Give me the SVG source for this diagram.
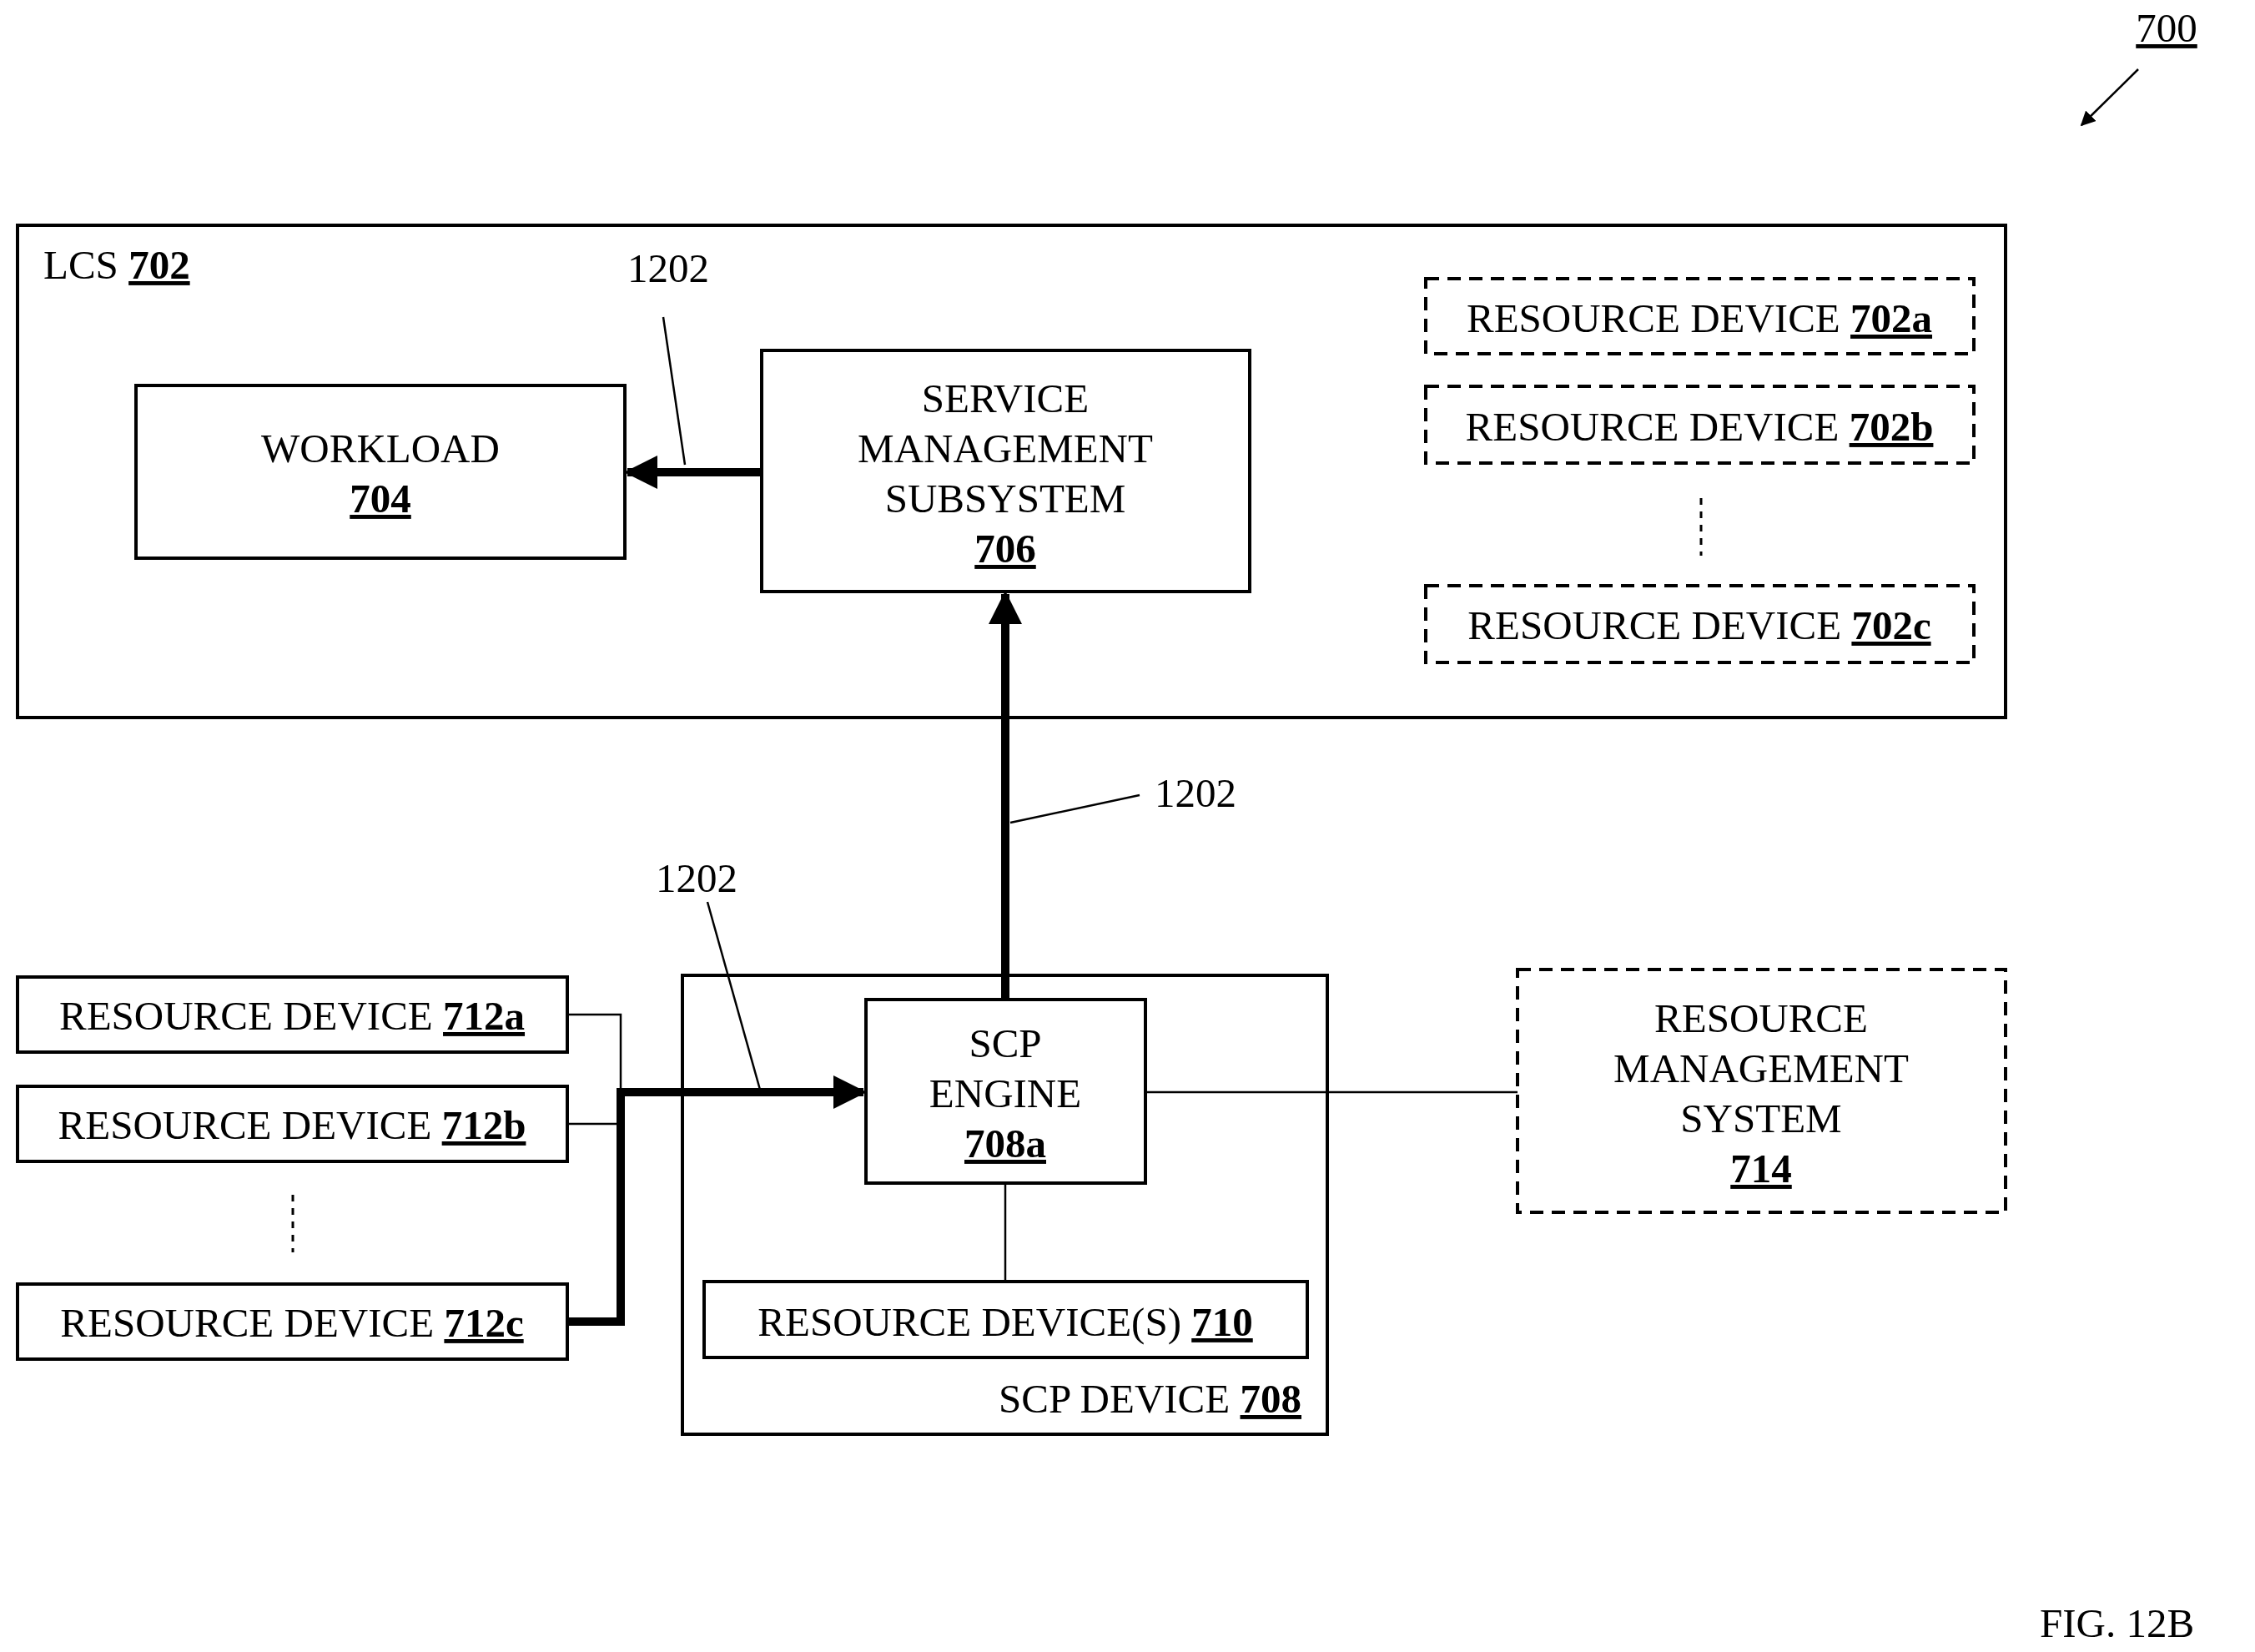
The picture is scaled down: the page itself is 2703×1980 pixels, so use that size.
<svg xmlns="http://www.w3.org/2000/svg" width="2703" height="1980" viewBox="0 0 2703 1980">
<style>
text{font-family:"Liberation Serif",serif;font-size:49px;fill:#000}
.m{text-anchor:middle}
.b{fill:none;stroke:#000;stroke-width:4}
.d{fill:none;stroke:#000;stroke-width:4;stroke-dasharray:16 10}
.t{fill:none;stroke:#000;stroke-width:2.5}
.k{fill:none;stroke:#000;stroke-width:10}
</style>
<defs>
<marker id="ah" viewBox="0 0 10 10" refX="9" refY="5" markerWidth="4" markerHeight="4" orient="auto" markerUnits="strokeWidth"><path d="M0,0L10,5L0,10z"/></marker>
<marker id="sa" viewBox="0 0 10 10" refX="9" refY="5" markerWidth="18" markerHeight="18" orient="auto" markerUnits="userSpaceOnUse"><path d="M0,0L10,5L0,10z"/></marker>
</defs>
<rect width="2703" height="1980" fill="#fff"/>
<g id="lcs"><rect class="b" x="21" y="270" width="2383" height="590"/><text x="52" y="334">LCS <tspan font-weight="bold" text-decoration="underline">702</tspan></text></g>
<g id="workload"><rect class="b" x="163" y="462" width="586" height="207"/><text class="m" x="456" y="554">WORKLOAD</text><text class="m" x="456" y="614" font-weight="bold" text-decoration="underline">704</text></g>
<g id="sms"><rect class="b" x="913" y="420" width="585" height="289"/><text class="m" x="1205" y="494">SERVICE</text><text class="m" x="1205" y="554">MANAGEMENT</text><text class="m" x="1205" y="614">SUBSYSTEM</text><text class="m" x="1205" y="674" font-weight="bold" text-decoration="underline">706</text></g>
<g id="rd702a"><rect class="d" x="1709" y="334" width="657" height="90"/><text class="m" x="2037" y="398">RESOURCE DEVICE <tspan font-weight="bold" text-decoration="underline">702a</tspan></text></g>
<g id="rd702b"><rect class="d" x="1709" y="463" width="657" height="92"/><text class="m" x="2037" y="528">RESOURCE DEVICE <tspan font-weight="bold" text-decoration="underline">702b</tspan></text></g>
<line x1="2039" y1="597" x2="2039" y2="666" stroke="#000" stroke-dasharray="8 8" stroke-width="3"/>
<g id="rd702c"><rect class="d" x="1709" y="702" width="657" height="92"/><text class="m" x="2037" y="766">RESOURCE DEVICE <tspan font-weight="bold" text-decoration="underline">702c</tspan></text></g>
<g id="scpdevice"><rect class="b" x="818" y="1169" width="773" height="550"/><text x="1560" y="1693" text-anchor="end">SCP DEVICE <tspan font-weight="bold" text-decoration="underline">708</tspan></text></g>
<g id="engine"><rect class="b" x="1038" y="1198" width="335" height="220"/><text class="m" x="1205" y="1267">SCP</text><text class="m" x="1205" y="1327">ENGINE</text><text class="m" x="1205" y="1387" font-weight="bold" text-decoration="underline">708a</text></g>
<g id="rd710"><rect class="b" x="844" y="1536" width="723" height="91"/><text class="m" x="1205" y="1601">RESOURCE DEVICE(S) <tspan font-weight="bold" text-decoration="underline">710</tspan></text></g>
<g id="rms"><rect class="d" x="1819" y="1162" width="585" height="291"/><text class="m" x="2111" y="1237">RESOURCE</text><text class="m" x="2111" y="1297">MANAGEMENT</text><text class="m" x="2111" y="1357">SYSTEM</text><text class="m" x="2111" y="1417" font-weight="bold" text-decoration="underline">714</text></g>
<g id="rd712a"><rect class="b" x="21" y="1171" width="659" height="90"/><text class="m" x="350" y="1234">RESOURCE DEVICE <tspan font-weight="bold" text-decoration="underline">712a</tspan></text></g>
<g id="rd712b"><rect class="b" x="21" y="1302" width="659" height="90"/><text class="m" x="350" y="1365">RESOURCE DEVICE <tspan font-weight="bold" text-decoration="underline">712b</tspan></text></g>
<line x1="351" y1="1432" x2="351" y2="1501" stroke="#000" stroke-width="3" stroke-dasharray="8 8"/>
<g id="rd712c"><rect class="b" x="21" y="1539" width="659" height="90"/><text class="m" x="350" y="1602">RESOURCE DEVICE <tspan font-weight="bold" text-decoration="underline">712c</tspan></text></g>
<g id="connectors">
<line class="k" x1="913" y1="566" x2="752" y2="566" marker-end="url(#ah)"/>
<line class="k" x1="1205" y1="1198" x2="1205" y2="712" marker-end="url(#ah)"/>
<polyline class="k" points="680,1584 744,1584 744,1309 1035,1309" marker-end="url(#ah)"/>
<polyline class="t" points="680,1216 744,1216 744,1309"/>
<line class="t" x1="680" y1="1347" x2="744" y2="1347"/>
<line class="t" x1="1373" y1="1309" x2="1819" y2="1309"/>
<line class="t" x1="1205" y1="1418" x2="1205" y2="1536"/>
<line class="t" x1="795" y1="380" x2="821" y2="557"/>
<line class="t" x1="1366" y1="953" x2="1211" y2="986"/>
<line class="t" x1="848" y1="1081" x2="911" y2="1306"/>
<line class="t" x1="2563" y1="83" x2="2495" y2="150" stroke-width="3.5" marker-end="url(#sa)"/>
</g>
<text x="801" y="338" class="m">1202</text>
<text x="1384" y="967">1202</text>
<text x="835" y="1069" class="m">1202</text>
<text x="2597" y="50" class="m" text-decoration="underline">700</text>
<text x="2445" y="1962" font-size="64">FIG. 12B</text>
</svg>
